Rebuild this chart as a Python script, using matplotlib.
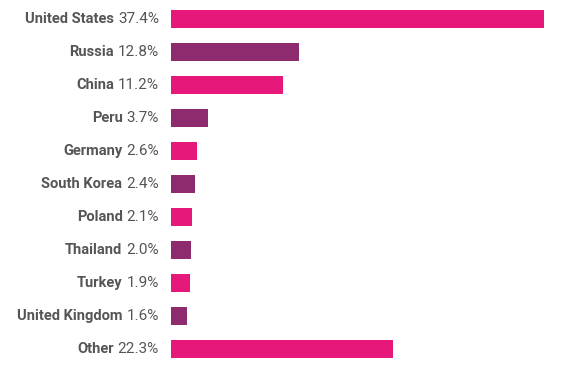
import matplotlib
matplotlib.use("Agg")
import matplotlib.pyplot as plt
from matplotlib.transforms import offset_copy

countries = ["United States", "Russia", "China", "Peru", "Germany", "South Korea",
             "Poland", "Thailand", "Turkey", "United Kingdom", "Other"]
shares = [37.4, 12.8, 11.2, 3.7, 2.6, 2.4, 2.1, 2.0, 1.9, 1.6, 22.3]

pink = "#E6187A"
purple = "#8E2B6F"
grey = "#555555"
fam = ["Roboto", "DejaVu Sans"]

fig = plt.figure(figsize=(5.64, 3.71), dpi=100)
ax = fig.add_axes([171 / 564, 5.5 / 371, (544 - 171) / 564, 363 / 371])

ypos = list(range(len(countries)))
colors = [pink if i % 2 == 0 else purple for i in ypos]
ax.barh(ypos, shares, height=0.55, color=colors)
ax.set_xlim(0, 37.4)
ax.set_ylim(len(countries) - 0.5, -0.5)
ax.axis("off")

fig.canvas.draw()
renderer = fig.canvas.get_renderer()
for y, name, val in zip(ypos, countries, shares):
    tr = offset_copy(ax.transData, fig=fig, x=-12, y=0, units="dots")
    t = ax.text(0, y, f"{val:.1f}%", transform=tr, ha="right", va="center",
                fontsize=11, color=grey, family=fam)
    w = t.get_window_extent(renderer).width
    tr2 = offset_copy(ax.transData, fig=fig, x=-12 - w - 4, y=0, units="dots")
    ax.text(0, y, name, transform=tr2, ha="right", va="center",
            fontsize=10.5, color=grey, family=fam, fontweight="bold")

fig.savefig("out.png", dpi=100)
